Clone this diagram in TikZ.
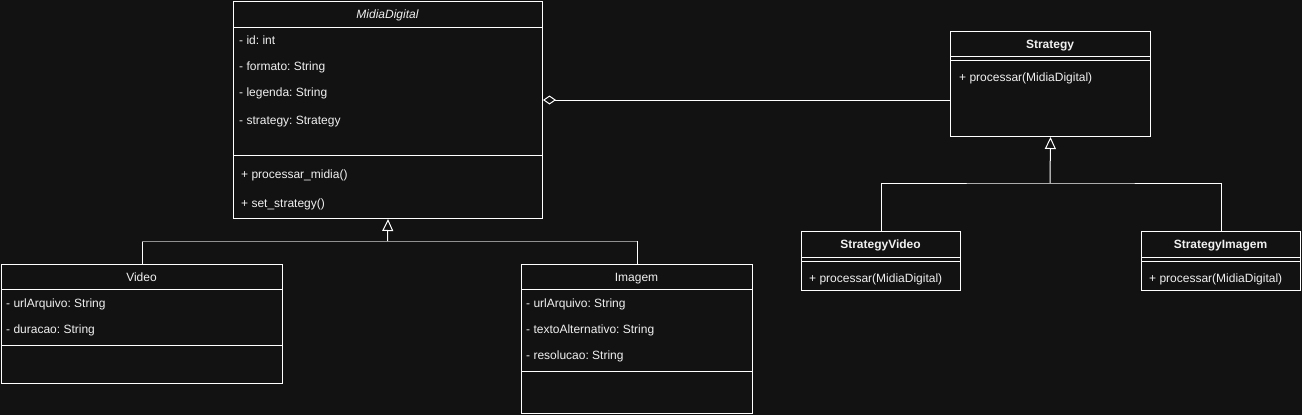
\documentclass[tikz,border=0pt]{standalone}
\usepackage{fontspec}
\setmainfont{Liberation Sans}
\usetikzlibrary{positioning,arrows.meta}
\definecolor{bg_dark}   {HTML} {121212}
\definecolor{text_light}{HTML} {F0F0F0}
\definecolor{line_gray} {HTML} {909090}
\frenchspacing

\begin{document}
\begin{tikzpicture}[x=1pt,y=-1pt,
  classbox/.style={draw=white,line width=1pt,inner sep=0pt,anchor=north west},
  member/.style={anchor=west,inner sep=0pt,text height=8.6pt,text depth=0pt,text=text_light,font=\fontsize{12}{14}\selectfont},
  classname/.style={inner sep=0pt,text height=8.6pt,text depth=0pt,text=text_light,font=\fontsize{12}{14}\selectfont},
  wire/.style={draw=white,line width=1pt},
  generalize/.style={wire,-{Triangle[open,width=11pt,length=12pt,fill=bg_dark]}},
  aggregate/.style={wire,{Diamond[open,width=9pt,length=13pt,fill=bg_dark]}-}]
\fill[bg_dark] (0,0) rectangle (1302,415);
\useasboundingbox (0,0) rectangle (1302,415);
% MidiaDigital
\node[classbox,minimum width=309pt,minimum height=217pt] (midia) at (233,1) {};
\node[classname,font=\fontsize{12}{14}\selectfont\itshape] (midiaT) at (387.5,14) {MidiaDigital};
\draw[wire] ([yshift=-26pt]midia.north west) -- ([yshift=-26pt]midia.north east);
\node[member] (midiaA1) at (239,40) {- id: int};
\node[member] (midiaA2) at (239,66) {- formato: String};
\node[member] (midiaA3) at (239,92) {- legenda: String};
\node[member] (midiaA4) at (239,120) {- strategy: Strategy};
\draw[wire] ([yshift=-154pt]midia.north west) -- ([yshift=-154pt]midia.north east);
\node[member] (midiaM1) at (241,174) {+ processar\_midia()};
\node[member] (midiaM2) at (241,203) {+ set\_strategy()};
% Video
\node[classbox,minimum width=281pt,minimum height=119pt] (video) at (1,264) {};
\node[classname] (videoT) at (141.5,277) {Video};
\draw[wire] ([yshift=-25pt]video.north west) -- ([yshift=-25pt]video.north east);
\node[member] (videoA1) at (6,303) {- urlArquivo: String};
\node[member] (videoA2) at (6,329) {- duracao: String};
\draw[wire] ([yshift=-81pt]video.north west) -- ([yshift=-81pt]video.north east);
% Imagem
\node[classbox,minimum width=231pt,minimum height=149pt] (imagem) at (521,264) {};
\node[classname] (imagemT) at (636.5,277) {Imagem};
\draw[wire] ([yshift=-25pt]imagem.north west) -- ([yshift=-25pt]imagem.north east);
\node[member] (imagemA1) at (526,303) {- urlArquivo: String};
\node[member] (imagemA2) at (526,329) {- textoAlternativo: String};
\node[member] (imagemA3) at (526,355) {- resolucao: String};
\draw[wire] ([yshift=-107pt]imagem.north west) -- ([yshift=-107pt]imagem.north east);
% Strategy
\node[classbox,minimum width=200pt,minimum height=105pt] (strategy) at (950,31) {};
\node[classname,font=\fontsize{12}{14}\selectfont\bfseries] (strategyT) at (1050,44) {Strategy};
\draw[wire] ([yshift=-25pt]strategy.north west) -- ([yshift=-25pt]strategy.north east);
\draw[wire] ([yshift=-29pt]strategy.north west) -- ([yshift=-29pt]strategy.north east);
\node[member] (strategyM1) at (959,77) {+ processar(MidiaDigital)};
% StrategyVideo
\node[classbox,minimum width=159pt,minimum height=59pt] (svideo) at (801,231) {};
\node[classname,font=\fontsize{12}{14}\selectfont\bfseries] (svideoT) at (880.5,244) {StrategyVideo};
\draw[wire] ([yshift=-26pt]svideo.north west) -- ([yshift=-26pt]svideo.north east);
\draw[wire] ([yshift=-30pt]svideo.north west) -- ([yshift=-30pt]svideo.north east);
\node[member] (svideoM1) at (809,278) {+ processar(MidiaDigital)};
% StrategyImagem
\node[classbox,minimum width=159pt,minimum height=59pt] (simagem) at (1141,231) {};
\node[classname,font=\fontsize{12}{14}\selectfont\bfseries] (simagemT) at (1220.5,244) {StrategyImagem};
\draw[wire] ([yshift=-26pt]simagem.north west) -- ([yshift=-26pt]simagem.north east);
\draw[wire] ([yshift=-30pt]simagem.north west) -- ([yshift=-30pt]simagem.north east);
\node[member] (simagemM1) at (1149,278) {+ processar(MidiaDigital)};
% connectors
\coordinate (midiaJ) at (387.5,241);
\coordinate (stratJ) at (1050,183);
\coordinate (aggEnd) at (950,100);
\draw[wire] (video.north) -- (video.north |- midiaJ);
\draw[wire] (imagem.north) -- (imagem.north |- midiaJ);
\draw[wire,draw=line_gray] (video.north |- midiaJ) -- (imagem.north |- midiaJ);
\draw[generalize] (midiaJ) -- (midia.south);
\draw[wire] (svideo.north) |- (stratJ) -| (simagem.north);
\draw[generalize] (stratJ) -- (strategy.south);
\draw[aggregate] (midia.east |- aggEnd) -- (aggEnd);
\end{tikzpicture}
\end{document}
